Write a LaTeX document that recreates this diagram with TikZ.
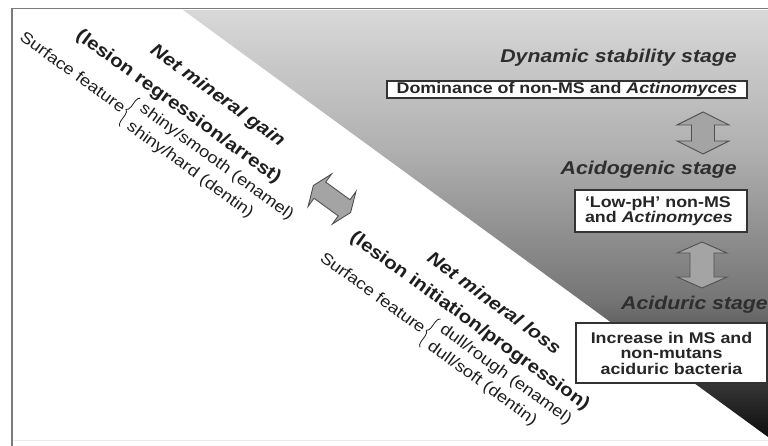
\documentclass[tikz,border=0pt]{standalone}
\usepackage{fontspec}
\setmainfont[FakeStretch=1.15]{Liberation Sans}
\usetikzlibrary{decorations.pathreplacing}
\definecolor{bgA}{HTML}{D8D8D8}
\definecolor{bgB}{HTML}{B0B0B0}
\definecolor{bgC}{HTML}{767676}
\definecolor{bgD}{HTML}{0E0E0E}
\definecolor{txt}{HTML}{1E1E1E}
\definecolor{stagetxt}{HTML}{2E2E2E}
\definecolor{frame}{HTML}{7A7A7A}
\definecolor{arrfill}{HTML}{A4A4A4}
\definecolor{arrline}{HTML}{505050}
\pgfdeclareverticalshading{bgshade}{100bp}{color(0bp)=(bgD); color(25bp)=(bgD); color(41.3bp)=(bgC); color(58.7bp)=(bgB); color(75bp)=(bgA); color(100bp)=(bgA)}
\newcommand\fsz[2]{\fontsize{#1}{#2}\selectfont}
\newcommand\blockarr[4]{%
  \filldraw[arrowst] (-#1,0) -- (-#1+#2,-#3) -- (-#1+#2,-#4) -- (#1-#2,-#4) -- (#1-#2,-#3) -- (#1,0)
   -- (#1-#2,#3) -- (#1-#2,#4) -- (-#1+#2,#4) -- (-#1+#2,#3) -- cycle;}
\tikzset{
  every node/.style={inner sep=0pt, text=txt},
  arrowst/.style={fill=arrfill, draw=arrline, line width=0.9pt, line join=miter},
  boxst/.style={draw=black!80, line width=1.1pt, fill=white, inner sep=0pt, font=\fsz{15.5}{15.5}\bfseries, text=black!85},
  stagest/.style={font=\fsz{18.5}{20}\bfseries\itshape, text=stagetxt},
  bigline/.style={font=\fsz{18}{20}\bfseries},
  smallline/.style={font=\fsz{16}{18}},
  bracest/.style={decorate, decoration={brace, amplitude=5pt}, line width=0.8pt, draw=txt},
}
\begin{document}
\begin{tikzpicture}[x=1pt,y=-1pt]
\useasboundingbox (0,0) rectangle (768,446);
\fill[white] (0,0) rectangle (768,446);
% shaded triangle
\shade[shading=bgshade] (183,10) -- (768,10) -- (768,437) -- cycle;
% frame
\draw[black!8, line width=1pt] (12,440) -- (768,440);
\draw[frame, line width=1.8pt] (12,446) -- (12,8.5) -- (768,8.5);

% right column
\node[stagest, anchor=base east] (s1) at (737,63) {Dynamic stability stage};
\node[boxst, minimum width=360pt, minimum height=17pt] (b1) at (567,89.5) {Dominance of non-MS and \textit{Actinomyces}};
\begin{scope}[shift={(703,133)}, rotate=90]\blockarr{21}{13}{26}{11.5}\end{scope}
\node[stagest, anchor=base east] (s2) at (737,175) {Acidogenic stage};
\node[boxst, minimum width=172pt, minimum height=42pt, text width=152pt, align=left, font=\fsz{15.5}{15}\bfseries] (b2) at (661,211) {`Low-pH' non-MS\\and \textit{Actinomyces}};
\begin{scope}[shift={(702,265)}, rotate=90]\blockarr{23}{11}{25}{12}\end{scope}
\node[stagest, anchor=base west] (s3) at (621,309.5) {Aciduric stage};
\node[boxst, minimum width=191pt, minimum height=60pt, align=center] (b3) at (671.5,353) {Increase in MS and\\non-mutans\\aciduric bacteria};

% middle diagonal arrow
\begin{scope}[shift={(332,199)}, rotate=-36]\blockarr{23}{8}{20}{10}\end{scope}

% group 1: net mineral gain
\begin{scope}[shift={(143,47)}, rotate=-36, transform shape]
  \node[bigline] (g1a) at (89,-4) {\textit{Net mineral gain}};
  \node[bigline] (g1b) at (64,28) {(lesion regression/arrest)};
  \node[smallline, anchor=east] (g1c) at (21,61) {Surface feature};
  \draw[bracest] (28,78) -- (28,43);
  \node[smallline, anchor=west] (g1d) at (34,50) {shiny/smooth (enamel)};
  \node[smallline, anchor=west] (g1e) at (34,72) {shiny/hard (dentin)};
\end{scope}

% group 2: net mineral loss
\begin{scope}[shift={(430,257)}, rotate=-36, transform shape]
  \node[bigline] (g2a) at (79,-1) {\textit{Net mineral loss}};
  \node[bigline] (g2b) at (70,29) {(lesion initiation/progression)};
  \node[smallline, anchor=east] (g2c) at (38,62) {Surface feature};
  \draw[bracest] (45,79) -- (45,44);
  \node[smallline, anchor=west] (g2d) at (51,51) {dull/rough (enamel)};
  \node[smallline, anchor=west] (g2e) at (51,72) {dull/soft (dentin)};
\end{scope}
\end{tikzpicture}
\end{document}
